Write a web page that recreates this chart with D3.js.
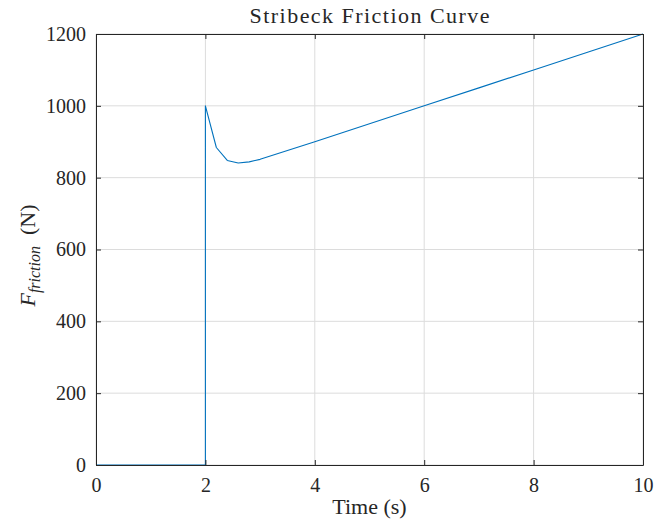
<!DOCTYPE html>
<html>
<head>
<meta charset="utf-8">
<script src="https://cdn.jsdelivr.net/npm/d3@7"></script>
<style>
  html, body { margin: 0; padding: 0; background: #fff; }
  svg text { font-family: "Liberation Serif", "DejaVu Serif", serif; fill: #262626; }
</style>
</head>
<body>
<svg id="chart" width="654" height="530"></svg>
<script>
// Friction force over time (Stribeck effect after motion starts at t = 2 s)
const time = [0, 2, 2, 2.2, 2.4, 2.6, 2.8, 3, 4, 5, 6, 7, 8, 9, 10];
const force = [0, 0, 1000, 884, 848, 841, 844, 851, 900, 950, 1000, 1050, 1100, 1150, 1200];
const xTicks = [0, 2, 4, 6, 8, 10];
const yTicks = [0, 200, 400, 600, 800, 1000, 1200];

const svg = d3.select("#chart");
const m = { left: 96, right: 643, top: 34, bottom: 465 };

const x = d3.scaleLinear().domain([0, 10]).range([m.left, m.right]);
const y = d3.scaleLinear().domain([0, 1200]).range([m.bottom, m.top]);

// grid
svg.append("g").selectAll("line").data(xTicks).join("line")
  .attr("x1", d => x(d)).attr("x2", d => x(d))
  .attr("y1", m.top).attr("y2", m.bottom)
  .attr("stroke", "#dcdcdc").attr("stroke-width", 1);
svg.append("g").selectAll("line").data(yTicks).join("line")
  .attr("x1", m.left).attr("x2", m.right)
  .attr("y1", d => y(d)).attr("y2", d => y(d))
  .attr("stroke", "#dcdcdc").attr("stroke-width", 1);

// data line
svg.append("path")
  .datum(time.map((t, i) => [t, force[i]]))
  .attr("fill", "none")
  .attr("stroke", "#0072BD")
  .attr("stroke-width", 1.1)
  .attr("stroke-linejoin", "round")
  .attr("d", d3.line().x(d => x(d[0])).y(d => y(d[1])));

// axes with inward ticks
const tickLen = 5;
const axCol = "#262626";
const fmt = d3.format("d");
const xb = svg.append("g").attr("transform", `translate(0,${m.bottom})`)
  .call(d3.axisBottom(x).tickValues(xTicks).tickFormat(fmt).tickSizeInner(-tickLen).tickSizeOuter(0).tickPadding(13));
const xt = svg.append("g").attr("transform", `translate(0,${m.top})`)
  .call(d3.axisTop(x).tickValues(xTicks).tickSizeInner(-tickLen).tickSizeOuter(0).tickFormat(""));
const yl = svg.append("g").attr("transform", `translate(${m.left},0)`)
  .call(d3.axisLeft(y).tickValues(yTicks).tickFormat(fmt).tickSizeInner(-tickLen).tickSizeOuter(0).tickPadding(10));
const yr = svg.append("g").attr("transform", `translate(${m.right},0)`)
  .call(d3.axisRight(y).tickValues(yTicks).tickSizeInner(-tickLen).tickSizeOuter(0).tickFormat(""));

[xb, xt, yl, yr].forEach(g => {
  g.select(".domain").attr("stroke", axCol).attr("stroke-width", 1);
  g.selectAll(".tick line").attr("stroke", axCol);
  g.selectAll(".tick text").attr("font-size", 20)
    .attr("font-family", "'Liberation Serif', 'DejaVu Serif', serif").attr("fill", axCol);
});
xb.selectAll(".tick text").attr("dy", "0.71em");

// title
svg.append("text")
  .attr("x", (m.left + m.right) / 2).attr("y", 23)
  .attr("text-anchor", "middle").attr("font-size", 22)
  .attr("textLength", 240).attr("lengthAdjust", "spacing")
  .text("Stribeck Friction Curve");

// x label
svg.append("text")
  .attr("x", (m.left + m.right) / 2).attr("y", 514)
  .attr("text-anchor", "middle").attr("font-size", 22)
  .text("Time (s)");

// y label: F_friction (N)
const yLab = svg.append("text")
  .attr("transform", `translate(35,${(m.top + m.bottom) / 2 + 6}) rotate(-90)`)
  .attr("text-anchor", "middle").attr("font-size", 22);
yLab.append("tspan").attr("font-style", "italic").text("F");
yLab.append("tspan").attr("font-style", "italic").attr("font-size", 16).attr("dy", 5).text("friction");
yLab.append("tspan").attr("dy", -5).text("\u2002(N)");
</script>
</body>
</html>
